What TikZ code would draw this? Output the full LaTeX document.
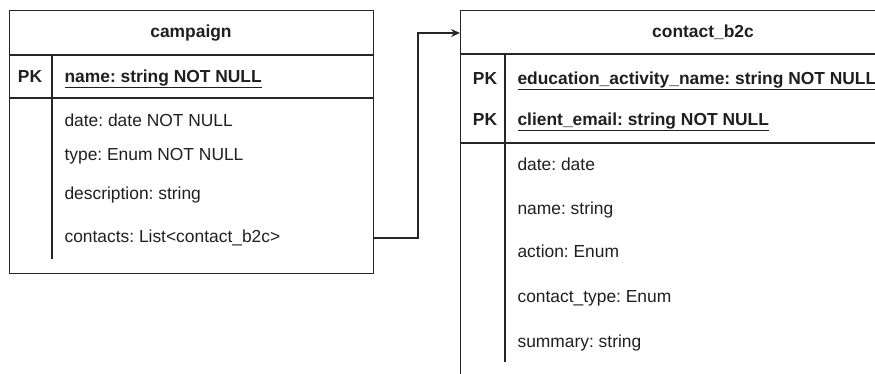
\documentclass[tikz,border=0pt]{standalone}
\usepackage{fontspec}
\setmainfont{Liberation Sans}
\usetikzlibrary{arrows.meta}
\definecolor{ln}{HTML}{262626}
\frenchspacing
\begin{document}
\begin{tikzpicture}[x=1pt,y=-1pt,
  line width=1.1pt,
  tbl/.style={draw=ln, line width=1.1pt, anchor=north west, inner sep=0},
  sep/.style={draw=ln, line width=1.1pt},
  lbl/.style={anchor=west, inner sep=0, text height=12.5pt, text depth=3.5pt,
              font=\fontsize{17.4}{19}\selectfont\frenchspacing, text=black!88},
  hdr/.style={inner sep=0, text height=12.5pt, text depth=3.5pt,
              font=\fontsize{17.4}{19}\selectfont\bfseries, text=black!88},
  pk/.style={hdr},
  bl/.style={lbl, font=\fontsize{17.4}{19}\selectfont\bfseries\frenchspacing},
  arr/.style={draw=ln, line width=1.1pt, -{Stealth[length=9pt,width=8pt]}}]
\useasboundingbox (0,0) rectangle (875,373);
\clip (0,0) rectangle (875,373);
% ---------- campaign ----------
\node[tbl, minimum width=364pt, minimum height=263pt] (camp) at (9,10) {};
\draw[sep] (9,55) -- (373,55);
\draw[sep] (9,98) -- (373,98);
\draw[sep] (52,55) -- (52,259);
\node[hdr] (campT) at (191,33) {campaign};
\node[pk] (campPK) at (30,78) {PK};
\node[bl] (campA) at (64,78) {\underline{name: string NOT NULL}};
\node[lbl] (campB) at (64,122) {date: date NOT NULL};
\node[lbl] (campC) at (64,156) {type: Enum NOT NULL};
\node[lbl] (campD) at (64,195) {description: string};
\node[lbl] (campE) at (64,238) {contacts: List<contact\_b2c>};
% ---------- contact_b2c ----------
\node[tbl, minimum width=486pt, minimum height=420pt] (cb) at (460,10) {};
\draw[sep] (460,54) -- (875,54);
\draw[sep] (460,143) -- (875,143);
\draw[sep] (505,54) -- (505,362);
\node[hdr] (cbT) at (703,33) {contact\_b2c};
\node[pk] (cbPK1) at (485,80) {PK};
\node[pk] (cbPK2) at (485,121) {PK};
\node[bl] (cbA) at (517,80) {\underline{education\_activity\_name: string NOT NULL}};
\node[bl] (cbB) at (517,121) {\underline{client\_email: string NOT NULL}};
\node[lbl] (cbC) at (517,166) {date: date};
\node[lbl] (cbD) at (517,210) {name: string};
\node[lbl] (cbE) at (517,253) {action: Enum};
\node[lbl] (cbF) at (517,298) {contact\_type: Enum};
\node[lbl] (cbG) at (517,343) {summary: string};
% ---------- connector ----------
\draw[arr] (camp.east |- campE) -- (418,238) |- (cb.west |- cbT);
\end{tikzpicture}
\end{document}
